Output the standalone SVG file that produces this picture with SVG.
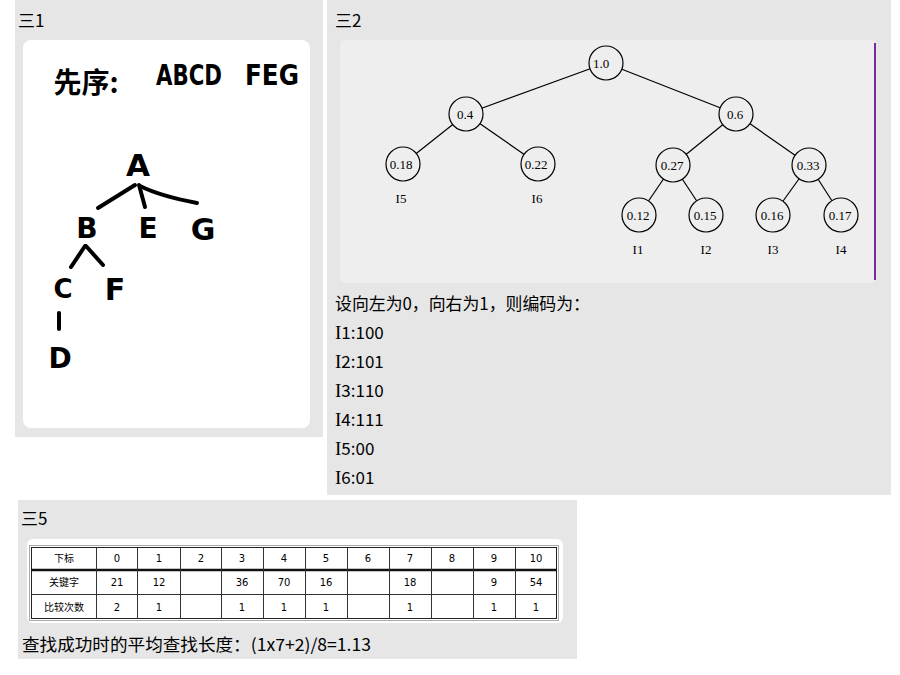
<svg xmlns="http://www.w3.org/2000/svg" width="900" height="675" viewBox="0 0 900 675">
<style>
.panel{fill:#e6e6e6}
.ttl{font-family:"Noto Sans CJK SC","Liberation Sans",sans-serif;font-size:17px;fill:#000}
.ser{font-family:"Liberation Serif",serif;font-size:19px}
.hw{font-family:"DejaVu Sans","Noto Sans CJK SC",sans-serif;font-weight:bold;fill:#000;text-anchor:middle}
.hwl{fill:none;stroke:#000;stroke-width:4;stroke-linecap:round;stroke-linejoin:round}
.edge{stroke:#000;stroke-width:1.2;fill:none}
.nd circle{fill:#eeeeee;stroke:#000;stroke-width:1.2}
.nd text{font-family:"Liberation Serif",serif;font-size:13px;text-anchor:middle;fill:#000}
.lbl{font-family:"Liberation Serif",serif;font-size:13px;text-anchor:middle;fill:#000}
.cell{font-family:"DejaVu Sans","Noto Sans CJK SC",sans-serif;font-size:10px;text-anchor:middle;fill:#000}
.grid{stroke:#333;stroke-width:1;fill:none}
</style>
<rect width="900" height="675" fill="#ffffff"/>

<!-- Panel 1 -->
<g id="panel1">
<rect class="panel" x="15" y="0" width="308" height="437"/>
<text class="ttl" x="18" y="27">三1</text>
<rect x="23" y="40" width="287" height="388" rx="8" fill="#ffffff"/>
<text class="hw" x="86" y="93" font-size="28" style="font-family:'Noto Sans CJK SC',sans-serif">先序:</text>
<text class="hw" x="189" y="85" font-size="29" textLength="66" lengthAdjust="spacingAndGlyphs">ABCD</text>
<text class="hw" x="272" y="85" font-size="29" textLength="54" lengthAdjust="spacingAndGlyphs">FEG</text>
</g>
<g id="hwA"><text class="hw" x="138" y="176" font-size="31">A</text></g>
<g id="hwB"><text class="hw" x="87" y="238" font-size="28">B</text></g>
<g id="hwE"><text class="hw" x="148" y="238" font-size="28">E</text></g>
<g id="hwG"><text class="hw" x="203" y="240" font-size="30">G</text></g>
<g id="hwC"><text class="hw" x="63" y="298" font-size="26">C</text></g>
<g id="hwF"><text class="hw" x="115" y="300" font-size="30">F</text></g>
<g id="hwD"><text class="hw" x="60" y="368" font-size="28">D</text></g>
<g id="hw-connectors">
<path class="hwl" d="M135 185 L98 208"/>
<path class="hwl" d="M139 185 L145 207"/>
<path class="hwl" d="M140 186 Q160 196 197 203"/>
<path class="hwl" d="M85 246 L71 267"/>
<path class="hwl" d="M86 246 L103 265"/>
<path class="hwl" d="M59 313 L59 329"/>
</g>

<!-- Panel 2 -->
<g id="panel2">
<rect class="panel" x="327" y="0" width="564" height="495"/>
<text class="ttl" x="335" y="27">三2</text>
<rect x="340" y="40" width="536" height="243" rx="5" fill="#eeeeee"/>
<line x1="875" y1="43" x2="875" y2="280" stroke="#7a2a9e" stroke-width="2"/>
<text class="ttl" x="335" y="310" textLength="255" lengthAdjust="spacingAndGlyphs">设向左为0，向右为1，则编码为：</text>
<text class="ttl" x="335" y="339"><tspan class="ser">I</tspan>1:100</text>
<text class="ttl" x="335" y="368"><tspan class="ser">I</tspan>2:101</text>
<text class="ttl" x="335" y="397"><tspan class="ser">I</tspan>3:110</text>
<text class="ttl" x="335" y="426"><tspan class="ser">I</tspan>4:111</text>
<text class="ttl" x="335" y="455"><tspan class="ser">I</tspan>5:00</text>
<text class="ttl" x="335" y="484"><tspan class="ser">I</tspan>6:01</text>
</g>
<g id="tree-edges">
<line class="edge" x1="606" y1="63" x2="466" y2="114"/>
<line class="edge" x1="606" y1="63" x2="736" y2="114"/>
<line class="edge" x1="466" y1="114" x2="403" y2="164"/>
<line class="edge" x1="466" y1="114" x2="538" y2="164"/>
<line class="edge" x1="736" y1="114" x2="673" y2="165"/>
<line class="edge" x1="736" y1="114" x2="809" y2="165"/>
<line class="edge" x1="673" y1="165" x2="639" y2="215"/>
<line class="edge" x1="673" y1="165" x2="706" y2="215"/>
<line class="edge" x1="809" y1="165" x2="773" y2="215"/>
<line class="edge" x1="809" y1="165" x2="841" y2="215"/>
</g>
<g id="n10" class="nd"><circle cx="606" cy="63" r="17"/><text x="601" y="68">1.0</text></g>
<g id="n04" class="nd"><circle cx="466" cy="114" r="17"/><text x="465" y="119">0.4</text></g>
<g id="n06" class="nd"><circle cx="736" cy="114" r="17"/><text x="735" y="119">0.6</text></g>
<g id="n018" class="nd"><circle cx="403" cy="164" r="17"/><text x="401" y="169">0.18</text></g>
<g id="n022" class="nd"><circle cx="538" cy="164" r="17"/><text x="536" y="169">0.22</text></g>
<g id="n027" class="nd"><circle cx="673" cy="165" r="17"/><text x="672" y="170">0.27</text></g>
<g id="n033" class="nd"><circle cx="809" cy="165" r="17"/><text x="808" y="170">0.33</text></g>
<g id="n012" class="nd"><circle cx="639" cy="215" r="17"/><text x="638" y="220">0.12</text></g>
<g id="n015" class="nd"><circle cx="706" cy="215" r="17"/><text x="705" y="220">0.15</text></g>
<g id="n016" class="nd"><circle cx="773" cy="215" r="17"/><text x="772" y="220">0.16</text></g>
<g id="n017" class="nd"><circle cx="841" cy="215" r="17"/><text x="840" y="220">0.17</text></g>
<g id="leaf-labels">
<text class="lbl" x="401" y="203">I5</text>
<text class="lbl" x="537" y="203">I6</text>
<text class="lbl" x="638" y="254">I1</text>
<text class="lbl" x="706" y="254">I2</text>
<text class="lbl" x="773" y="254">I3</text>
<text class="lbl" x="841" y="254">I4</text>
</g>

<!-- Panel 3 -->
<g id="panel5">
<rect class="panel" x="18" y="500" width="559" height="159"/>
<text class="ttl" x="21" y="525">三5</text>
<rect x="27" y="539" width="536" height="84" rx="6" fill="#ffffff"/>
<rect x="29.5" y="545.5" width="529" height="75" fill="none" stroke="#aaa" stroke-width="1"/>
<g id="table">
<rect x="31.5" y="547.5" width="525" height="71" fill="#ffffff" stroke="#222" stroke-width="1"/>
<line x1="31" y1="570" x2="557" y2="570" stroke="#111" stroke-width="2.5"/>
<line class="grid" x1="31" y1="594.5" x2="557" y2="594.5"/>
<path class="grid" d="M96.5 547V619 M137.5 547V619 M180.5 547V619 M221.5 547V619 M263.5 547V619 M305.5 547V619 M347.5 547V619 M389.5 547V619 M431.5 547V619 M473.5 547V619 M515.5 547V619"/>
<text class="cell" x="64" y="562">下标</text>
<text class="cell" x="117" y="562">0</text>
<text class="cell" x="159" y="562">1</text>
<text class="cell" x="201" y="562">2</text>
<text class="cell" x="242" y="562">3</text>
<text class="cell" x="284" y="562">4</text>
<text class="cell" x="326" y="562">5</text>
<text class="cell" x="368" y="562">6</text>
<text class="cell" x="410" y="562">7</text>
<text class="cell" x="452" y="562">8</text>
<text class="cell" x="494" y="562">9</text>
<text class="cell" x="536" y="562">10</text>
<text class="cell" x="64" y="586">关键字</text>
<text class="cell" x="117" y="586">21</text>
<text class="cell" x="159" y="586">12</text>
<text class="cell" x="242" y="586">36</text>
<text class="cell" x="284" y="586">70</text>
<text class="cell" x="326" y="586">16</text>
<text class="cell" x="410" y="586">18</text>
<text class="cell" x="494" y="586">9</text>
<text class="cell" x="536" y="586">54</text>
<text class="cell" x="64" y="611">比较次数</text>
<text class="cell" x="117" y="611">2</text>
<text class="cell" x="159" y="611">1</text>
<text class="cell" x="242" y="611">1</text>
<text class="cell" x="284" y="611">1</text>
<text class="cell" x="326" y="611">1</text>
<text class="cell" x="410" y="611">1</text>
<text class="cell" x="494" y="611">1</text>
<text class="cell" x="536" y="611">1</text>
</g>
<text class="ttl" x="22" y="651" textLength="349" lengthAdjust="spacingAndGlyphs">查找成功时的平均查找长度：(1x7+2)/8=1.13</text>
</g>
</svg>
